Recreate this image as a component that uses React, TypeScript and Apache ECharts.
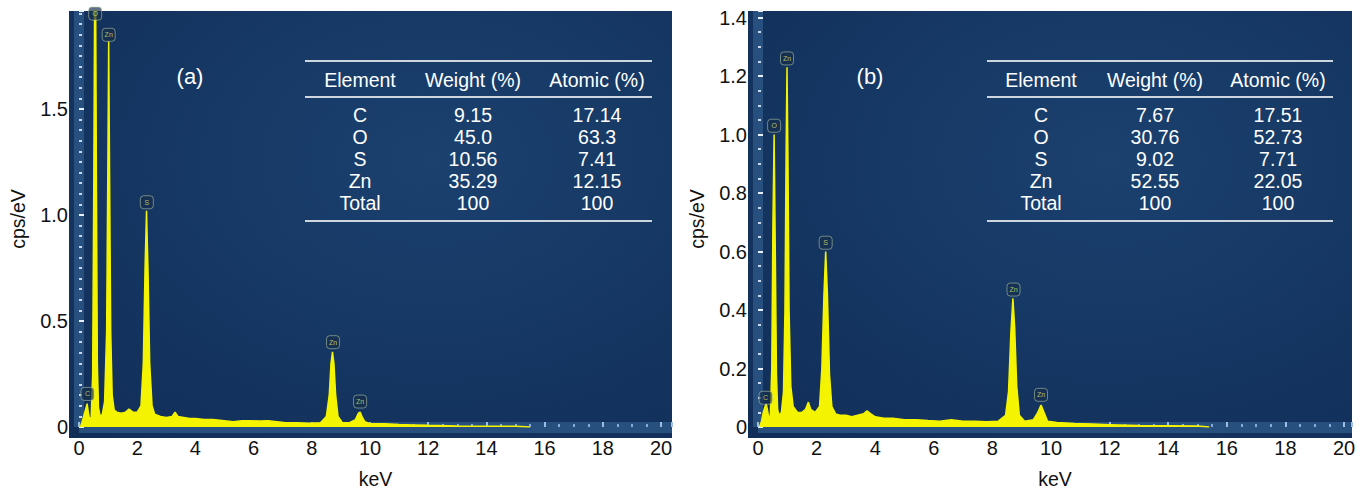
import React, { useEffect, useRef } from 'react';
import * as echarts from 'echarts';

// ---------- data ----------
const xTickLabels = [0, 2, 4, 6, 8, 10, 12, 14, 16, 18, 20];
const yTickLabelsA = [0, 0.5, 1.0, 1.5];
const yTickLabelsB = [0, 0.2, 0.4, 0.6, 0.8, 1.0, 1.2, 1.4];

// EDS spectrum (a): [keV, cps/eV]
const spectrumA: [number, number][] = [
  [0.05, 0], [0.12, 0.03], [0.18, 0.06], [0.24, 0.09], [0.28, 0.11], [0.32, 0.07], [0.37, 0.03],
  [0.42, 0.05], [0.47, 0.25], [0.51, 1.2], [0.54, 2.1], [0.57, 2.1], [0.6, 1.1], [0.63, 0.3],
  [0.67, 0.09], [0.73, 0.05], [0.8, 0.06], [0.88, 0.12], [0.95, 0.45], [0.99, 1.2], [1.02, 1.82],
  [1.05, 1.2], [1.09, 0.45], [1.14, 0.15], [1.21, 0.08], [1.3, 0.07], [1.45, 0.065], [1.6, 0.07],
  [1.72, 0.085], [1.85, 0.07], [2.0, 0.07], [2.13, 0.1], [2.21, 0.3], [2.27, 0.75], [2.32, 1.02],
  [2.37, 0.75], [2.43, 0.3], [2.51, 0.1], [2.6, 0.06], [2.8, 0.05], [3.0, 0.045], [3.2, 0.05],
  [3.3, 0.07], [3.4, 0.05], [3.6, 0.045], [3.8, 0.04], [4.0, 0.04], [4.3, 0.035], [4.6, 0.035],
  [5.0, 0.03], [5.3, 0.025], [5.6, 0.03], [5.9, 0.03], [6.2, 0.028], [6.5, 0.03], [6.8, 0.025],
  [7.1, 0.02], [7.5, 0.02], [7.9, 0.018], [8.3, 0.02], [8.5, 0.05], [8.6, 0.15], [8.66, 0.3],
  [8.71, 0.355], [8.76, 0.3], [8.82, 0.15], [8.9, 0.05], [9.05, 0.02], [9.3, 0.02], [9.5, 0.035],
  [9.6, 0.065], [9.66, 0.07], [9.72, 0.05], [9.82, 0.025], [10.0, 0.015], [10.5, 0.015],
  [11.0, 0.012], [11.5, 0.01], [12.0, 0.008], [13.0, 0.005], [14.0, 0.004], [15.0, 0.003], [15.5, 0],
];

// EDS spectrum (b): [keV, cps/eV]
const spectrumB: [number, number][] = [
  [0.05, 0], [0.12, 0.02], [0.18, 0.05], [0.24, 0.07], [0.28, 0.08], [0.32, 0.06], [0.37, 0.03],
  [0.42, 0.04], [0.47, 0.2], [0.51, 0.7], [0.55, 1.0], [0.59, 0.6], [0.63, 0.18], [0.67, 0.06],
  [0.72, 0.04], [0.8, 0.05], [0.87, 0.12], [0.92, 0.4], [0.96, 0.95], [0.99, 1.23], [1.02, 0.95],
  [1.06, 0.4], [1.12, 0.14], [1.2, 0.07], [1.35, 0.05], [1.5, 0.05], [1.62, 0.06], [1.72, 0.085],
  [1.8, 0.06], [1.95, 0.05], [2.1, 0.07], [2.18, 0.2], [2.25, 0.45], [2.31, 0.6], [2.37, 0.45],
  [2.44, 0.18], [2.52, 0.07], [2.65, 0.045], [2.8, 0.04], [3.0, 0.04], [3.2, 0.035], [3.4, 0.04],
  [3.6, 0.045], [3.72, 0.055], [3.85, 0.045], [4.0, 0.035], [4.3, 0.03], [4.6, 0.03], [5.0, 0.025],
  [5.4, 0.025], [5.8, 0.022], [6.2, 0.02], [6.6, 0.025], [7.0, 0.02], [7.4, 0.02], [7.8, 0.018],
  [8.2, 0.02], [8.45, 0.04], [8.55, 0.12], [8.63, 0.32], [8.7, 0.44], [8.76, 0.34], [8.83, 0.14],
  [8.92, 0.04], [9.1, 0.02], [9.4, 0.025], [9.55, 0.05], [9.66, 0.075], [9.76, 0.05], [9.88, 0.02],
  [10.2, 0.015], [10.8, 0.012], [11.4, 0.01], [12.0, 0.008], [13.0, 0.005], [14.0, 0.004],
  [15.0, 0.003], [15.4, 0],
];

// peak identification boxes
const peakNamesA = ['C', 'O', 'Zn', 'S', 'Zn', 'Zn'];
const peakEnergyA = [0.29, 0.555, 1.02, 2.33, 8.73, 9.66];
const peakBoxYA = [0.156, 1.95, 1.85, 1.06, 0.40, 0.12];

const peakNamesB = ['C', 'O', 'Zn', 'S', 'Zn', 'Zn'];
const peakEnergyB = [0.26, 0.55, 0.99, 2.31, 8.72, 9.66];
const peakBoxYB = [0.1, 1.03, 1.26, 0.63, 0.47, 0.11];

// composition tables
const tableHeaders = ['Element', 'Weight (%)', 'Atomic (%)'];
const elements = ['C', 'O', 'S', 'Zn', 'Total'];
const weightA = ['9.15', '45.0', '10.56', '35.29', '100'];
const atomicA = ['17.14', '63.3', '7.41', '12.15', '100'];
const weightB = ['7.67', '30.76', '9.02', '52.55', '100'];
const atomicB = ['17.51', '52.73', '7.71', '22.05', '100'];

const panelTags = ['(a)', '(b)'];

// ---------- styling ----------
const FONT = '"Liberation Sans", Arial, Helvetica, sans-serif';
const SPEC_YELLOW = '#f4f400';
const STRIPE = '#28507f';

function isMultiple(v: number, step: number) {
  const r = v / step;
  return Math.abs(r - Math.round(r)) < 1e-6;
}

function makeBg() {
  return new echarts.graphic.RadialGradient(0.6, 0.35, 0.9, [
    { offset: 0, color: '#1b416f' },
    { offset: 1, color: '#102d57' },
  ]);
}

export default function App() {
  const ref = useRef<HTMLDivElement>(null);

  useEffect(() => {
    if (!ref.current) return;
    const chart = echarts.init(ref.current, undefined, { renderer: 'svg' });

    const grids = [
      { left: 79, top: 11, width: 593, height: 416 },
      { left: 758, top: 11, width: 594, height: 416 },
    ];
    const xMax = [593 / 29.1, 594 / 29.3];
    const yMax = [416 / 212, 416 / 292.5];
    const yStep = [0.5, 0.2];
    const yMinorSplit = [10, 4];
    const yLabelSets = [yTickLabelsA, yTickLabelsB];

    const xAxes = grids.map((_, i) => ({
      type: 'value',
      gridIndex: i,
      min: 0,
      max: xMax[i],
      interval: 2,
      offset: 5.5,
      name: 'keV',
      nameLocation: 'middle',
      nameGap: 36,
      nameTextStyle: { color: '#111', fontSize: 19.5, fontFamily: FONT },
      axisLine: { show: true, lineStyle: { color: STRIPE, width: 11, cap: 'butt' } },
      axisTick: { show: true, inside: true, length: 5, lineStyle: { color: '#9dbde6', width: 2 } },
      minorTick: { show: true, splitNumber: 4, length: 3, lineStyle: { color: '#86a9d6', width: 2 } },
      splitLine: { show: false },
      axisLabel: {
        color: '#111',
        fontSize: 20,
        fontFamily: FONT,
        margin: 5,
        formatter: (v: number) => (xTickLabels.some((t) => Math.abs(t - v) < 1e-6) ? String(v) : ''),
      },
    }));

    const yAxes = grids.map((_, i) => ({
      type: 'value',
      gridIndex: i,
      min: 0,
      max: yMax[i],
      interval: yStep[i],
      offset: 5,
      name: 'cps/eV',
      nameLocation: 'middle',
      nameRotate: 90,
      nameGap: 46,
      nameTextStyle: { color: '#111', fontSize: 19.5, fontFamily: FONT },
      axisLine: { show: true, lineStyle: { color: STRIPE, width: 10, cap: 'butt' } },
      axisTick: { show: true, inside: true, length: 5, lineStyle: { color: '#e6eef8', width: 2 } },
      minorTick: { show: true, splitNumber: yMinorSplit[i], length: 3, lineStyle: { color: '#c9d8ec', width: 2 } },
      splitLine: { show: false },
      axisLabel: {
        color: '#111',
        fontSize: 20,
        fontFamily: FONT,
        margin: 6,
        formatter: (v: number) => {
          if (!isMultiple(v, yStep[i])) return '';
          if (!yLabelSets[i].some((t) => Math.abs(t - v) < 1e-6)) return '';
          return v === 0 ? '0' : v.toFixed(1);
        },
      },
    }));

    const spectra = [spectrumA, spectrumB];
    const peakSets = [
      { names: peakNamesA, xs: peakEnergyA, ys: peakBoxYA },
      { names: peakNamesB, xs: peakEnergyB, ys: peakBoxYB },
    ];

    const series: any[] = [];
    spectra.forEach((data, i) => {
      series.push({
        type: 'line',
        xAxisIndex: i,
        yAxisIndex: i,
        data,
        showSymbol: false,
        symbol: 'none',
        smooth: false,
        clip: true,
        lineStyle: { color: SPEC_YELLOW, width: 1.5 },
        areaStyle: { color: SPEC_YELLOW, opacity: 1 },
        z: 3,
      });
      const p = peakSets[i];
      series.push({
        type: 'scatter',
        xAxisIndex: i,
        yAxisIndex: i,
        clip: false,
        symbol: 'roundRect',
        symbolSize: [13, 13],
        itemStyle: { color: 'rgba(22,45,75,0.85)', borderColor: 'rgba(175,195,165,0.75)', borderWidth: 1 },
        label: {
          show: true,
          position: 'inside',
          formatter: '{b}',
          fontSize: 7,
          fontFamily: FONT,
          color: '#d8e070',
        },
        data: p.names.map((n, k) => ({ name: n, value: [p.xs[k], p.ys[k]] })),
        z: 4,
      });
    });

    // graphic: panel backgrounds, tables, tags
    const graphic: any[] = [];
    const panelRects = [
      { x: 69, y: 11, width: 603, height: 427 },
      { x: 748, y: 11, width: 604, height: 427 },
    ];
    panelRects.forEach((r) => {
      graphic.push({ type: 'rect', shape: r, style: { fill: makeBg() }, z: -10, silent: true });
    });

    const tables = [
      { x1: 305, x2: 652, cols: [360, 473, 597], w: weightA, a: atomicA },
      { x1: 987, x2: 1333, cols: [1041, 1155, 1278], w: weightB, a: atomicB },
    ];
    const lineColor = '#cdd5df';
    const rowYs = [115, 137, 159, 181, 203];
    const tfs = 19.5;
    tables.forEach((t) => {
      [61, 97, 221].forEach((ly) => {
        graphic.push({
          type: 'line',
          shape: { x1: t.x1, y1: ly, x2: t.x2, y2: ly },
          style: { stroke: lineColor, lineWidth: 2 },
          z: 10,
        });
      });
      tableHeaders.forEach((h, c) => {
        graphic.push({
          type: 'text',
          x: t.cols[c],
          y: 80,
          style: { text: h, fill: '#ffffff', fontSize: tfs, fontFamily: FONT, align: 'center', verticalAlign: 'middle' },
          z: 10,
        });
      });
      elements.forEach((el, r) => {
        const vals = [el, t.w[r], t.a[r]];
        vals.forEach((v, c) => {
          graphic.push({
            type: 'text',
            x: t.cols[c],
            y: rowYs[r],
            style: { text: v, fill: '#ffffff', fontSize: tfs, fontFamily: FONT, align: 'center', verticalAlign: 'middle' },
            z: 10,
          });
        });
      });
    });

    [190, 870].forEach((cx, i) => {
      graphic.push({
        type: 'text',
        x: cx,
        y: 76,
        style: { text: panelTags[i], fill: '#ffffff', fontSize: 22, fontFamily: FONT, align: 'center', verticalAlign: 'middle' },
        z: 10,
      });
    });

    chart.setOption({
      animation: false,
      backgroundColor: '#ffffff',
      grid: grids.map((g) => ({ ...g, containLabel: false, outerBoundsMode: 'none', show: false })),
      xAxis: xAxes,
      yAxis: yAxes,
      series,
      graphic,
    });

    return () => chart.dispose();
  }, []);

  return (
    <div
      ref={ref}
      style={{ position: 'fixed', left: 0, top: 0, width: 1359, height: 489 }}
    />
  );
}
